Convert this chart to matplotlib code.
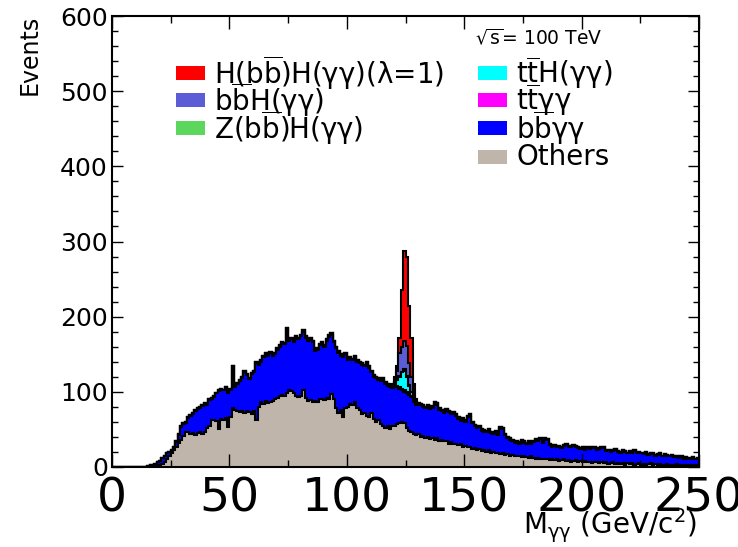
import numpy as np
import matplotlib
matplotlib.use("Agg")
import matplotlib.pyplot as plt
from matplotlib.patches import Rectangle

plt.rcParams['font.family'] = ['DejaVu Sans']
plt.rcParams['mathtext.fontset'] = 'dejavusans'
plt.rcParams['mathtext.default'] = 'regular'

# 1 GeV bins from 0 to 250
bin_edges = np.arange(0, 251, 1)

# events per bin (bins 0..249, ten per row)
others = [
    0, 0, 0, 0, 0, 0, 0, 0, 0, 0,
    0, 0, 0, 0, 0, 0, 0, 0, 0, 1,
    2, 4, 7, 10, 14, 18, 23, 27, 32, 36,
    41, 47, 46, 44, 45, 43, 45, 46, 44, 47,
    52, 55, 62, 63, 61, 50, 64, 63, 65, 53,
    66, 78, 76, 74, 73, 75, 72, 74, 73, 71,
    74, 62, 80, 86, 84, 88, 85, 87, 88, 90,
    92, 94, 96, 95, 98, 103, 101, 99, 94, 93,
    95, 103, 92, 88, 89, 87, 88, 86, 90, 91,
    89, 92, 90, 97, 90, 79, 72, 76, 66, 78,
    80, 84, 82, 86, 78, 76, 70, 72, 68, 67,
    72, 64, 60, 62, 57, 55, 52, 54, 50, 55,
    54, 57, 59, 60, 58, 52, 48, 46, 44, 42,
    44, 40, 41, 38, 40, 37, 39, 36, 38, 35,
    36, 34, 35, 31, 33, 30, 31, 29, 30, 27,
    28, 26, 27, 24, 25, 23, 24, 21, 22, 20,
    22, 19, 20, 18, 19, 17, 18, 16, 17, 15,
    16, 14, 15, 14, 13, 15, 13, 12, 14, 12,
    11, 12, 10, 11, 10, 11, 9, 10, 9, 10,
    8, 9, 10, 8, 9, 7, 8, 9, 7, 8,
    7, 8, 6, 7, 5, 6, 7, 5, 6, 5,
    6, 4, 5, 6, 4, 5, 4, 5, 3, 5,
    4, 5, 3, 4, 5, 3, 4, 3, 4, 5,
    3, 4, 3, 4, 2, 3, 4, 3, 2, 3,
    4, 2, 3, 2, 3, 2, 3, 2, 3, 2,
]

bbyy = [
    0, 0, 0, 0, 0, 0, 0, 0, 0, 0,
    0, 0, 0, 0, 0, 1, 2, 3, 4, 5,
    6, 8, 8, 8, 6, 3, 3, 6, 11, 17,
    16, 12, 19, 24, 26, 32, 32, 33, 37, 37,
    31, 34, 29, 30, 37, 51, 39, 39, 41, 46,
    37, 56, 31, 37, 42, 44, 55, 49, 44, 53,
    52, 76, 56, 54, 62, 62, 63, 64, 60, 60,
    64, 66, 68, 68, 85, 64, 69, 67, 78, 77,
    79, 77, 80, 80, 80, 79, 66, 70, 72, 73,
    71, 76, 83, 79, 76, 79, 80, 72, 80, 72,
    63, 60, 60, 60, 62, 62, 66, 62, 70, 65,
    54, 56, 58, 54, 57, 61, 59, 54, 56, 50,
    53, 49, 45, 42, 42, 46, 48, 47, 42, 40,
    39, 42, 39, 40, 41, 40, 40, 47, 45, 41,
    38, 38, 40, 42, 37, 41, 37, 35, 31, 36,
    32, 40, 40, 34, 29, 29, 29, 27, 25, 26,
    26, 26, 24, 28, 24, 34, 32, 26, 21, 21,
    18, 18, 18, 17, 21, 17, 17, 20, 17, 21,
    25, 23, 27, 21, 27, 25, 20, 17, 19, 16,
    19, 16, 18, 21, 18, 19, 20, 18, 18, 16,
    19, 15, 19, 17, 21, 19, 16, 19, 19, 21,
    15, 18, 15, 15, 19, 15, 15, 16, 17, 13,
    16, 14, 18, 14, 14, 15, 13, 16, 12, 13,
    14, 11, 13, 13, 12, 13, 11, 11, 13, 10,
    10, 10, 10, 9, 9, 9, 7, 10, 7, 9,
]

ttyy = [
    0, 0, 0, 0, 0, 0, 0, 0, 0, 0,
    0, 0, 0, 0, 0, 0, 0, 0, 0, 0,
    0, 0, 0, 0, 0, 1, 1, 1, 1, 1,
    1, 1, 1, 1, 1, 1, 1, 1, 1, 1,
    1, 1, 1, 1, 1, 1, 1, 1, 1, 1,
    1, 1, 1, 1, 1, 1, 1, 1, 1, 1,
    2, 2, 2, 2, 2, 2, 2, 2, 2, 2,
    2, 2, 2, 2, 2, 3, 2, 2, 2, 2,
    2, 2, 2, 2, 3, 2, 2, 2, 2, 2,
    2, 2, 3, 2, 2, 2, 2, 2, 2, 2,
    2, 3, 2, 2, 2, 2, 2, 2, 2, 2,
    2, 2, 2, 2, 2, 2, 2, 2, 2, 2,
    3, 2, 2, 2, 2, 2, 2, 2, 2, 2,
    2, 2, 2, 2, 2, 2, 2, 3, 2, 2,
    2, 2, 2, 2, 2, 2, 2, 2, 2, 2,
    2, 2, 3, 2, 2, 2, 2, 2, 2, 2,
    2, 2, 2, 2, 2, 2, 2, 2, 2, 2,
    2, 2, 2, 2, 2, 2, 2, 2, 2, 2,
    1, 1, 1, 1, 1, 1, 1, 1, 1, 1,
    1, 1, 1, 1, 1, 1, 1, 1, 1, 1,
    1, 1, 1, 1, 1, 1, 1, 1, 1, 1,
    1, 1, 1, 1, 1, 1, 1, 1, 1, 1,
    1, 1, 1, 1, 1, 1, 1, 1, 1, 1,
    1, 1, 1, 1, 1, 1, 1, 1, 1, 1,
    1, 1, 1, 1, 1, 1, 1, 1, 1, 1,
]

# Higgs peak samples, bins 119..129
peak_first_bin = 119
tth_peak = [1, 3, 8, 14, 22, 26, 20, 10, 5, 4, 2]
zh_peak = [0, 0, 0, 1, 1, 2, 1, 1, 0, 0, 0]
bbh_peak = [2, 5, 12, 30, 33, 38, 40, 30, 20, 8, 2]
hh_peak = [1, 2, 6, 21, 76, 119, 119, 75, 52, 10, 2]


def full_hist(peak):
    h = np.zeros(len(bin_edges) - 1)
    h[peak_first_bin:peak_first_bin + len(peak)] = peak
    return h


# stack order bottom -> top
layers = [
    np.array(others, dtype=float),
    np.array(bbyy, dtype=float),
    np.array(ttyy, dtype=float),
    full_hist(tth_peak),
    full_hist(zh_peak),
    full_hist(bbh_peak),
    full_hist(hh_peak),
]
colors = ['#bfb5ab', '#0000ff', '#ff00ff', '#00ffff', '#5cd65c', '#5c5cd6', '#ff0000']
cum = np.cumsum(layers, axis=0)

W, H = 738, 547
fig = plt.figure(figsize=(W / 100, H / 100), dpi=100)
ax = fig.add_axes([112 / W, 1 - 467 / H, (699 - 112) / W, (467 - 16) / H])

# like THStack: draw the full sum first, then each lower sum on top of it
for i in range(len(layers) - 1, -1, -1):
    ax.stairs(cum[i], bin_edges, fill=True, color=colors[i], lw=0)
    ax.stairs(cum[i], bin_edges, color='black', lw=1.5)

ax.set_xlim(0, 250)
ax.set_ylim(0, 600)
ax.set_xticks(np.arange(0, 251, 50))
ax.set_xticks(np.arange(0, 251, 25), minor=True)
ax.set_yticks(np.arange(0, 601, 100))
ax.set_yticks(np.arange(0, 601, 20), minor=True)
for s in ax.spines.values():
    s.set_linewidth(1.5)
ax.tick_params(which='both', direction='in', top=True, right=True, width=1)
ax.tick_params(axis='x', which='major', length=9.5, labelsize=34, pad=7)
ax.tick_params(axis='x', which='minor', length=5)
ax.tick_params(axis='y', which='major', length=8, labelsize=18, pad=3)
ax.tick_params(axis='y', which='minor', length=4)

fig.text(697 / W, 1 - 526 / H, r'M$_{\gamma\gamma}$ (GeV/c$^{2}$)',
         ha='right', va='center', fontsize=20)
fig.text(30 / W, 1 - 15 / H, 'Events', rotation=90, ha='center', va='top', fontsize=17)
fig.text(475 / W, 1 - 38 / H, r'$\sqrt{s}$= 100 TeV', ha='left', va='center', fontsize=13.5)

# legend, two columns
entries = [
    (176, 73, 6, r'H(b$\overline{b}$)H(γγ)(λ=1)'),
    (176, 100, 5, r'b$\overline{b}$H(γγ)'),
    (176, 128, 4, r'Z(b$\overline{b}$)H(γγ)'),
    (478, 73, 3, r't$\overline{t}$H(γγ)'),
    (478, 100, 2, r't$\overline{t}$γγ'),
    (478, 128, 1, r'b$\overline{b}$γγ'),
    (478, 157, 0, 'Others'),
]
for bx, by, idx, label in entries:
    fig.add_artist(Rectangle((bx / W, 1 - (by + 7) / H), 29 / W, 14 / H,
                             transform=fig.transFigure, facecolor=colors[idx],
                             edgecolor='none'))
    fig.text((bx + 38) / W, 1 - by / H, label, ha='left', va='center', fontsize=20)

fig.savefig('out.png', dpi=100)
